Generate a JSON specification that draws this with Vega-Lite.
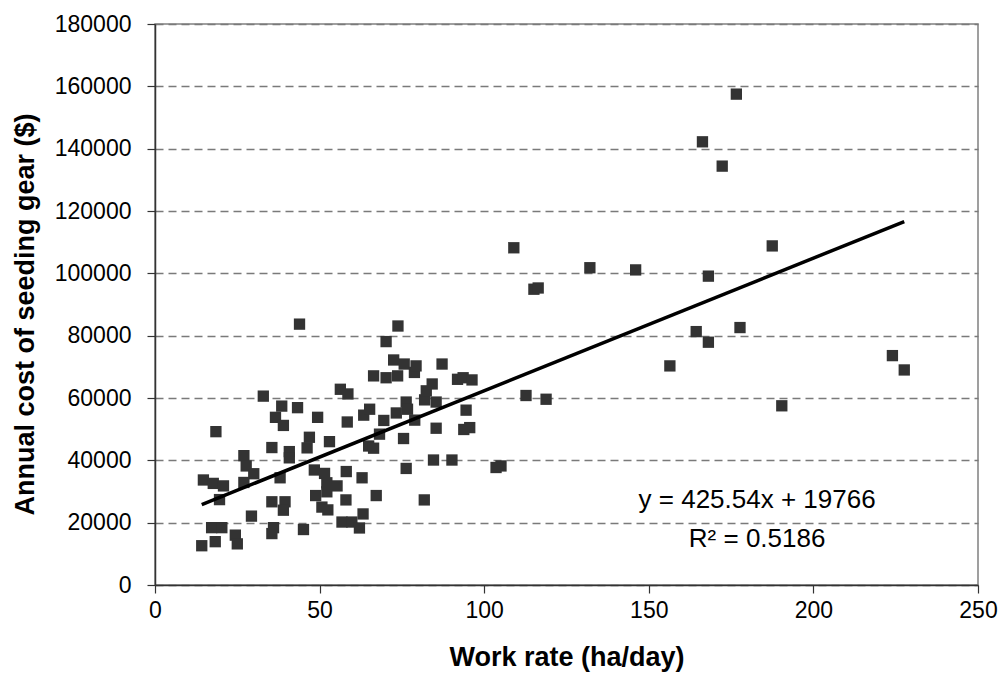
{
  "$schema": "https://vega.github.io/schema/vega-lite/v6.json",
  "width": 823,
  "height": 561,
  "autosize": {"type": "none"},
  "padding": {"left": 155, "top": 24, "right": 24, "bottom": 96},
  "background": "white",
  "config": {
    "view": {"stroke": "#808080", "strokeWidth": 1.5},
    "font": "Liberation Sans"
  },
  "datasets": {
    "points": [
      {"rate": 14.2, "cost": 12600}, {"rate": 14.7, "cost": 33700}, {"rate": 17.7, "cost": 32600},
      {"rate": 20.8, "cost": 31800}, {"rate": 18.5, "cost": 49200}, {"rate": 19.6, "cost": 27400},
      {"rate": 17.2, "cost": 18400}, {"rate": 20.3, "cost": 18400}, {"rate": 18.3, "cost": 13900},
      {"rate": 24.4, "cost": 16000}, {"rate": 25.0, "cost": 13200}, {"rate": 27.0, "cost": 41500},
      {"rate": 27.7, "cost": 38200}, {"rate": 30.0, "cost": 35700}, {"rate": 27.0, "cost": 32900},
      {"rate": 29.3, "cost": 22100}, {"rate": 32.9, "cost": 60600}, {"rate": 35.5, "cost": 44100},
      {"rate": 36.0, "cost": 18400}, {"rate": 35.5, "cost": 16500}, {"rate": 35.5, "cost": 26700},
      {"rate": 39.5, "cost": 26700}, {"rate": 39.0, "cost": 24000}, {"rate": 38.0, "cost": 34400},
      {"rate": 38.5, "cost": 57400}, {"rate": 36.6, "cost": 53800}, {"rate": 39.0, "cost": 51200},
      {"rate": 40.8, "cost": 42800}, {"rate": 40.8, "cost": 40800}, {"rate": 43.3, "cost": 56900},
      {"rate": 43.9, "cost": 83700}, {"rate": 45.1, "cost": 17800}, {"rate": 46.9, "cost": 47400},
      {"rate": 46.2, "cost": 44000}, {"rate": 48.4, "cost": 36900}, {"rate": 48.8, "cost": 28700},
      {"rate": 49.4, "cost": 53800}, {"rate": 50.7, "cost": 25000}, {"rate": 52.5, "cost": 24100},
      {"rate": 51.5, "cost": 35800}, {"rate": 52.2, "cost": 32800}, {"rate": 52.2, "cost": 29900},
      {"rate": 53.0, "cost": 46000}, {"rate": 55.3, "cost": 31800}, {"rate": 56.3, "cost": 62800},
      {"rate": 58.6, "cost": 61300}, {"rate": 58.4, "cost": 52300}, {"rate": 58.1, "cost": 36400},
      {"rate": 58.0, "cost": 27300}, {"rate": 56.8, "cost": 20200}, {"rate": 59.8, "cost": 20200},
      {"rate": 62.1, "cost": 18300}, {"rate": 63.2, "cost": 22800}, {"rate": 62.9, "cost": 34400},
      {"rate": 63.4, "cost": 54500}, {"rate": 65.2, "cost": 56400}, {"rate": 64.9, "cost": 44600},
      {"rate": 66.4, "cost": 43900}, {"rate": 67.2, "cost": 28700}, {"rate": 66.4, "cost": 67100},
      {"rate": 68.2, "cost": 48400}, {"rate": 69.5, "cost": 52800}, {"rate": 70.2, "cost": 66500},
      {"rate": 70.2, "cost": 78100}, {"rate": 72.5, "cost": 72200}, {"rate": 73.7, "cost": 67100},
      {"rate": 73.8, "cost": 83100}, {"rate": 73.3, "cost": 55200}, {"rate": 75.7, "cost": 70900},
      {"rate": 75.5, "cost": 47000}, {"rate": 76.3, "cost": 58700}, {"rate": 76.7, "cost": 56400},
      {"rate": 76.3, "cost": 37400}, {"rate": 78.8, "cost": 68200}, {"rate": 79.3, "cost": 70300},
      {"rate": 78.9, "cost": 52900}, {"rate": 81.8, "cost": 27300}, {"rate": 81.9, "cost": 59400},
      {"rate": 82.4, "cost": 62300}, {"rate": 84.2, "cost": 64500}, {"rate": 85.4, "cost": 58700},
      {"rate": 85.4, "cost": 50300}, {"rate": 84.6, "cost": 40100}, {"rate": 87.2, "cost": 70900},
      {"rate": 90.2, "cost": 40100}, {"rate": 91.9, "cost": 66000}, {"rate": 93.6, "cost": 66500},
      {"rate": 96.3, "cost": 65800}, {"rate": 94.5, "cost": 56100}, {"rate": 93.8, "cost": 49900},
      {"rate": 95.6, "cost": 50500}, {"rate": 103.6, "cost": 37700}, {"rate": 105.1, "cost": 38200},
      {"rate": 109.0, "cost": 108200}, {"rate": 112.7, "cost": 60800}, {"rate": 115.1, "cost": 94900},
      {"rate": 116.4, "cost": 95300}, {"rate": 118.8, "cost": 59600}, {"rate": 132.1, "cost": 101800},
      {"rate": 146.0, "cost": 101100}, {"rate": 156.4, "cost": 70300}, {"rate": 164.4, "cost": 81300},
      {"rate": 166.3, "cost": 142200}, {"rate": 168.1, "cost": 99100}, {"rate": 168.1, "cost": 77900},
      {"rate": 172.3, "cost": 134400}, {"rate": 176.6, "cost": 157500}, {"rate": 177.7, "cost": 82600},
      {"rate": 187.5, "cost": 108800}, {"rate": 190.4, "cost": 57500}, {"rate": 224.0, "cost": 73600},
      {"rate": 227.6, "cost": 69000}
    ],
    "trend": [
      {"rate": 14.2, "cost": 25809},
      {"rate": 227.6, "cost": 116620}
    ],
    "labels": [
      {"rate": 182.9, "cost": 27400, "text": "y = 425.54x + 19766"},
      {"rate": 182.9, "cost": 14900, "text": "R² = 0.5186"}
    ]
  },
  "layer": [
    {
      "data": {"name": "points"},
      "mark": {"type": "point", "shape": "square", "filled": true, "size": 128, "color": "#333333", "opacity": 1},
      "encoding": {
        "x": {
          "field": "rate", "type": "quantitative",
          "scale": {"domain": [0, 250], "nice": false, "zero": true},
          "axis": {
            "title": "Work rate (ha/day)",
            "values": [0, 50, 100, 150, 200, 250],
            "grid": false,
            "domainColor": "#333333", "domainWidth": 1.5,
            "tickColor": "#333333", "tickWidth": 1.2, "tickSize": 8,
            "labelFont": "Liberation Sans", "labelFontSize": 23, "labelColor": "#000000", "labelPadding": 6,
            "titleFont": "Liberation Sans", "titleFontSize": 27, "titleFontWeight": "bold", "titleColor": "#000000",
            "titlePadding": 22, "labelFlush": false
          }
        },
        "y": {
          "field": "cost", "type": "quantitative",
          "scale": {"domain": [0, 180000], "nice": false},
          "axis": {
            "title": "Annual cost of seeding gear ($)",
            "values": [0, 20000, 40000, 60000, 80000, 100000, 120000, 140000, 160000, 180000],
            "format": "d",
            "grid": true, "gridColor": "#7a7a7a", "gridDash": [8, 5], "gridWidth": 1.4,
            "domainColor": "#333333", "domainWidth": 1.5,
            "tickColor": "#333333", "tickWidth": 1.2, "tickSize": 8,
            "labelFont": "Liberation Sans", "labelFontSize": 23, "labelColor": "#000000", "labelPadding": 16,
            "titleFont": "Liberation Sans", "titleFontSize": 27, "titleFontWeight": "bold", "titleColor": "#000000",
            "titlePadding": 15, "titleY": 290, "labelFlush": false
          }
        }
      }
    },
    {
      "data": {"name": "trend"},
      "mark": {"type": "line", "color": "#000000", "strokeWidth": 3.5},
      "encoding": {
        "x": {"field": "rate", "type": "quantitative"},
        "y": {"field": "cost", "type": "quantitative"}
      }
    },
    {
      "data": {"name": "labels"},
      "mark": {"type": "text", "font": "Liberation Sans", "fontSize": 26, "color": "#000000", "align": "center", "baseline": "middle"},
      "encoding": {
        "x": {"field": "rate", "type": "quantitative"},
        "y": {"field": "cost", "type": "quantitative"},
        "text": {"field": "text", "type": "nominal"}
      }
    }
  ]
}
